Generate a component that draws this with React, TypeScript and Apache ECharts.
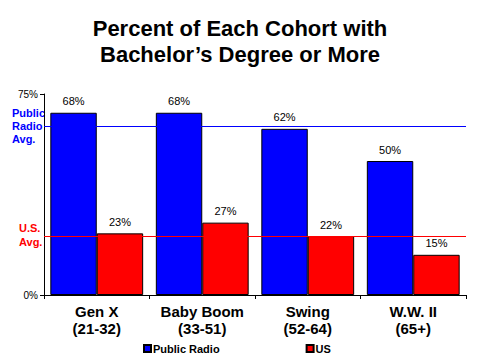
import React, { useEffect, useRef } from "react";
import * as echarts from "echarts";

const categories = ["Gen X\n(21-32)", "Baby Boom\n(33-51)", "Swing\n(52-64)", "W.W. II\n(65+)"];
const publicRadio = [68, 68, 62, 50];
const us = [23, 27, 22, 15];
const publicRadioAvg = 63;
const usAvg = 22;
const yTicks = [0, 75];

export default function App() {
  const ref = useRef<HTMLDivElement>(null);
  useEffect(() => {
    if (!ref.current) return;
    const chart = echarts.init(ref.current, null, { renderer: "svg" });
    const font = "'Liberation Sans', Arial, sans-serif";
    chart.setOption({
      animation: false,
      backgroundColor: "#ffffff",
      textStyle: { fontFamily: font },
      title: {
        text: "Percent of Each Cohort with\nBachelor\u2019s Degree or More",
        left: "center",
        top: 10,
        textStyle: { fontFamily: font, fontSize: 22, fontWeight: "bold", color: "#000", lineHeight: 26 },
      },
      legend: {
        data: ["Public Radio", "US"],
        left: 138,
        top: 338,
        itemWidth: 7,
        itemHeight: 7,
        itemGap: 86,
        icon: "rect",
        textStyle: { fontFamily: font, fontSize: 11, fontWeight: "bold", color: "#000", padding: [0, 0, 0, -3] },
      },
      grid: { left: 44, right: 14, top: 94, bottom: 65 },
      xAxis: {
        type: "category",
        data: categories,
        axisLine: { lineStyle: { color: "#000", width: 1 } },
        axisTick: { show: true, length: 4, lineStyle: { color: "#000" } },
        axisLabel: {
          interval: 0,
          color: "#000",
          fontFamily: font,
          fontSize: 15,
          fontWeight: "bold",
          lineHeight: 17,
          margin: 8,
        },
      },
      yAxis: {
        type: "value",
        min: yTicks[0],
        max: yTicks[1],
        interval: 75,
        splitLine: { show: false },
        axisLine: { show: true, lineStyle: { color: "#000", width: 1 } },
        axisTick: { show: true, length: 4, lineStyle: { color: "#000" } },
        axisLabel: { color: "#000", fontFamily: font, fontSize: 10, margin: 6, formatter: "{value}%" },
      },
      graphic: [
        {
          type: "text",
          left: 12,
          top: 106,
          style: {
            text: "Public\nRadio\nAvg.",
            fill: "#0000ff",
            font: `bold 11px ${font}`,
            lineHeight: 13,
          },
        },
        {
          type: "text",
          left: 19,
          top: 221,
          style: {
            text: "U.S.\nAvg.",
            fill: "#ff0000",
            font: `bold 11px ${font}`,
            lineHeight: 14,
          },
        },
      ],
      series: [
        {
          name: "Public Radio",
          type: "bar",
          data: publicRadio,
          barGap: "0%",
          barCategoryGap: "12%",
          itemStyle: { color: "#0000ff", borderColor: "#000", borderWidth: 1 },
          label: { show: true, position: "top", distance: 6, formatter: "{c}%", color: "#000", fontSize: 11, fontFamily: font },
          markLine: {
            silent: true,
            symbol: "none",
            label: { show: false },
            lineStyle: { color: "#0000ff", width: 1, type: "solid" },
            data: [{ yAxis: publicRadioAvg }],
          },
        },
        {
          name: "US",
          type: "bar",
          data: us,
          barGap: "0%",
          barCategoryGap: "12%",
          itemStyle: { color: "#ff0000", borderColor: "#000", borderWidth: 1 },
          label: { show: true, position: "top", distance: 6, formatter: "{c}%", color: "#000", fontSize: 11, fontFamily: font },
          markLine: {
            silent: true,
            symbol: "none",
            label: { show: false },
            lineStyle: { color: "#ff0000", width: 1, type: "solid" },
            data: [{ yAxis: usAvg }],
          },
        },
      ],
    });
    return () => chart.dispose();
  }, []);
  return <div ref={ref} style={{ position: "fixed", left: 0, top: 0, width: 480, height: 360 }} />;
}
